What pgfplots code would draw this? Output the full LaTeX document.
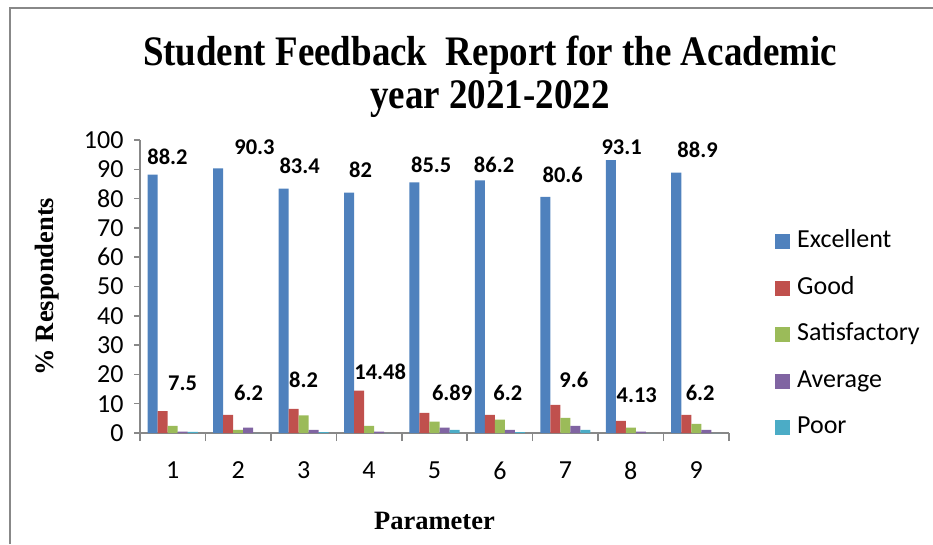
\documentclass[border=0pt]{standalone}
\usepackage{fontspec}
\usepackage{pgfplots}
\pgfplotsset{compat=1.18}
\setmainfont{Liberation Serif}
\newfontfamily\carl{Carlito}
\definecolor{exc}{HTML}{4F81BD}
\definecolor{good}{HTML}{C0504D}
\definecolor{sat}{HTML}{9BBB59}
\definecolor{avg}{HTML}{8064A2}
\definecolor{poor}{HTML}{4BACC6}
\definecolor{axgray}{HTML}{888888}
\pgfplotsset{sq/.style={legend image code/.code={\fill[##1] (0pt,-7.5pt) rectangle (15pt,7.5pt);}}}
\begin{document}
\begin{tikzpicture}
\useasboundingbox (0pt,0pt) rectangle (933pt,544pt);
\draw[axgray, line width=2pt] (10pt,0pt) -- (10pt,536pt) -- (933pt,536pt);
\begin{axis}[
  at={(140pt,111pt)}, anchor=south west,
  scale only axis, width=589pt, height=293pt,
  xmin=0.5, xmax=9.5, ymin=0, ymax=100,
  ybar,
  axis x line=bottom, axis y line=left,
  axis line style={axgray, line width=1.5pt, -},
  xtick={1,...,9}, xticklabels={1,2,3,4,5,6,7,8,9},
  minor xtick={0.5,1.5,...,9.5},
  x tick style={draw=none},
  minor x tick style={draw=axgray, line width=1.5pt},
  minor tick length=8pt,
  ytick={0,10,...,100},
  y tick style={draw=axgray, line width=1.5pt},
  major tick length=6pt,
  tick align=outside,
  /pgf/number format/assume math mode=true,
  tick label style={font=\carl\fontsize{26}{30}\selectfont, text=black},
  xticklabel style={yshift=-19pt},
  yticklabel style={xshift=-7pt},
  every axis y label/.style={at={(axis description cs:-0.158,0.5)}, rotate=90, anchor=center},
  every axis x label/.style={at={(axis description cs:0.5,-0.300)}, anchor=center},
  label style={font=\bfseries\fontsize{26.5}{30}\selectfont},
  ylabel={\% Respondents},
  xlabel={Parameter},
  legend style={at={(axis description cs:1.078,0.335)}, anchor=west, draw=none, fill=none,
    inner sep=0pt, font=\carl\fontsize{26}{30}\selectfont, row sep=25pt, column sep=7pt,
    nodes={inner sep=0pt, text height=16.5pt, text depth=5pt, anchor=west}},
  legend cell align=left,
]
\addplot[fill=exc, draw=none, bar width=0.153, bar shift=-0.306, sq] coordinates {(1,88.2) (2,90.3) (3,83.4) (4,82) (5,85.5) (6,86.2) (7,80.6) (8,93.1) (9,88.9)};
\addplot[fill=good, draw=none, bar width=0.153, bar shift=-0.153, sq] coordinates {(1,7.5) (2,6.2) (3,8.2) (4,14.48) (5,6.89) (6,6.2) (7,9.6) (8,4.13) (9,6.2)};
\addplot[fill=sat, draw=none, bar width=0.153, bar shift=0, sq] coordinates {(1,2.4) (2,1.1) (3,6.0) (4,2.4) (5,3.9) (6,4.6) (7,5.2) (8,1.8) (9,3.1)};
\addplot[fill=avg, draw=none, bar width=0.153, bar shift=0.153, sq] coordinates {(1,0.5) (2,1.8) (3,1.1) (4,0.5) (5,1.8) (6,1.1) (7,2.4) (8,0.5) (9,1.1)};
\addplot[fill=poor, draw=none, bar width=0.153, bar shift=0.306, sq] coordinates {(1,0.4) (2,0) (3,0.3) (4,0) (5,1.1) (6,0.3) (7,1.1) (8,0) (9,0)};
\legend{Excellent,Good,Satisfactory,Average,Poor}
\begin{scope}[every node/.style={font=\carl\bfseries\fontsize{22.5}{26}\selectfont, anchor=center}]
\node at (axis cs:0.92,94.2) {88.2};
\node at (axis cs:2.25,97.6) {90.3};
\node at (axis cs:2.94,91.1) {83.4};
\node at (axis cs:3.87,89.8) {82};
\node at (axis cs:4.95,91.5) {85.5};
\node at (axis cs:5.91,91.5) {86.2};
\node at (axis cs:6.96,88.1) {80.6};
\node at (axis cs:7.86,97.6) {93.1};
\node at (axis cs:9.02,96.6) {88.9};
\node at (axis cs:1.15,17.1) {7.5};
\node at (axis cs:2.16,13.7) {6.2};
\node at (axis cs:3.0,18.1) {8.2};
\node at (axis cs:4.17,20.8) {14.48};
\node at (axis cs:5.27,13.7) {6.89};
\node at (axis cs:6.12,13.7) {6.2};
\node at (axis cs:7.13,18.1) {9.6};
\node at (axis cs:8.09,13.0) {4.13};
\node at (axis cs:9.06,13.7) {6.2};
\end{scope}
\end{axis}
\node[font=\bfseries\fontsize{42}{50}\selectfont] at (490pt,489pt) {\scalebox{0.88}[1]{Student Feedback\ \ Report for the Academic}};
\node[font=\bfseries\fontsize{42}{50}\selectfont] at (490pt,445pt) {\scalebox{0.88}[1]{year 2021-2022}};
\end{tikzpicture}
\end{document}
